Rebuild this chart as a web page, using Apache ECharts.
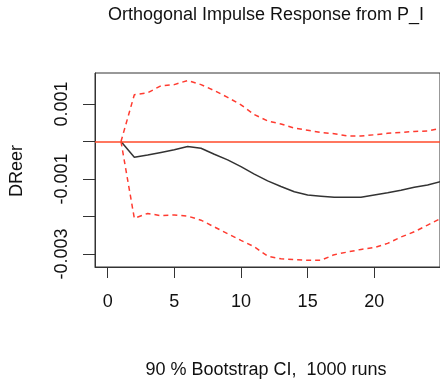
<!DOCTYPE html>
<html>
<head>
<meta charset="utf-8">
<script src="https://cdn.jsdelivr.net/npm/echarts@6/dist/echarts.min.js"></script>
<style>html,body{margin:0;padding:0;background:#fff}#c{width:440px;height:386px}</style>
</head>
<body>
<div id="c"></div>
<script>
var steps = [1,2,3,4,5,6,7,8,9,10,11,12,13,14,15,16,17,18,19,20,21,22,23,24,25];
var response = [0,-0.00042,-0.00036,-0.00029,-0.00022,-0.00013,-0.00018,-0.00034,-0.00049,-0.00067,-0.00087,-0.00105,-0.0012,-0.00134,-0.00143,-0.00146,-0.00149,-0.00149,-0.00149,-0.00143,-0.00137,-0.0013,-0.00122,-0.00116,-0.00107];
var upper = [0,0.00125,0.0013,0.00149,0.00152,0.00163,0.00152,0.00136,0.00118,0.00098,0.00072,0.00055,0.00047,0.00036,0.0003,0.00024,0.00021,0.00015,0.00015,0.00018,0.00022,0.00024,0.00027,0.00028,0.00036];
var lower = [0,-0.00205,-0.00192,-0.00198,-0.00196,-0.00199,-0.0021,-0.00228,-0.00246,-0.00264,-0.00281,-0.00306,-0.00313,-0.00315,-0.00317,-0.00317,-0.00302,-0.00295,-0.00288,-0.00283,-0.00272,-0.00255,-0.00241,-0.00223,-0.00205];
var xTicks = [0,5,10,15,20];
var yTicks = [0.001,0,-0.001,-0.002,-0.003];
var yLabels = [0.001,-0.001,-0.003];
var titleText = 'Orthogonal Impulse Response from P_I';
var subText = '90 % Bootstrap CI,  1000 runs';
var yName = 'DReer';

function pairs(ys){ return steps.map(function(s,i){ return [s, ys[i]]; }); }
var FONT = '"Liberation Sans", Arial, sans-serif';
var chart = echarts.init(document.getElementById('c'), null, {renderer:'canvas'});
chart.setOption({
  animation:false,
  grid:{left:95, top:73, right:0, bottom:119, show:true, borderColor:'#333', borderWidth:1, backgroundColor:'transparent', outerBoundsMode:'none', containLabel:false},
  xAxis:{type:'value', min:-0.95, max:24.93, position:'bottom',
    axisLine:{show:true, onZero:false, lineStyle:{color:'#333', width:1}}, splitLine:{show:false},
    axisTick:{show:true, inside:false, length:11, customValues:xTicks, lineStyle:{color:'#333', width:1}},
    axisLabel:{show:true, customValues:xTicks, margin:26, fontSize:18, fontFamily:FONT, color:'#111'}
  },
  yAxis:{type:'value', min:-0.00335, max:0.00183, position:'left',
    axisLine:{show:true, onZero:false, lineStyle:{color:'#333', width:1}}, splitLine:{show:false},
    axisTick:{show:true, inside:false, length:12, customValues:yTicks, lineStyle:{color:'#333', width:1}},
    axisLabel:{show:true, customValues:yLabels, rotate:90, margin:24, fontSize:18, fontFamily:FONT, color:'#111',
      formatter:function(v){ return v.toFixed(3); }}
  },
  series:[
    {type:'line', data:pairs(response), symbol:'none', lineStyle:{color:'#333', width:1.5},
      markLine:{silent:true, symbol:'none', label:{show:false}, data:[{yAxis:0}], lineStyle:{color:'#ff4a2a', width:1.5, type:'solid'}}},
    {type:'line', data:pairs(upper), symbol:'none', lineStyle:{color:'#ff3b30', width:1.5, type:[5,4]}},
    {type:'line', data:pairs(lower), symbol:'none', lineStyle:{color:'#ff3b30', width:1.5, type:[5,4]}}
  ],
  graphic:[
    {type:'text', x:266, y:15, style:{text:titleText, font:'18px '+FONT, fill:'#111', align:'center', verticalAlign:'middle'}},
    {type:'text', x:266, y:370, style:{text:subText, font:'18px '+FONT, fill:'#111', align:'center', verticalAlign:'middle'}},
    {type:'text', x:17, y:171, rotation:Math.PI/2, style:{text:yName, font:'18px '+FONT, fill:'#111', align:'center', verticalAlign:'middle'}}
  ]
});
</script>
</body>
</html>
